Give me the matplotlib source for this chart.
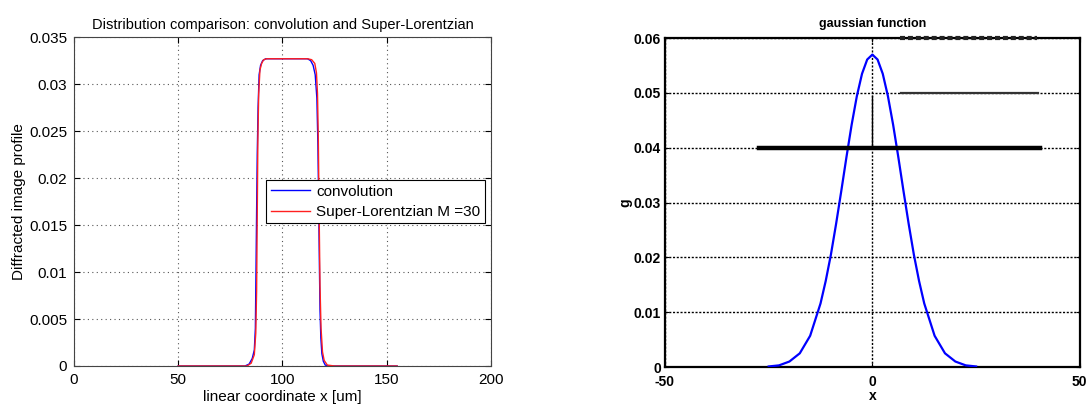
import numpy as np
import matplotlib
matplotlib.use('Agg')
import matplotlib.pyplot as plt

# left panel: convolution vs super-lorentzian
conv_x = [50, 82, 84, 85.5, 86.5, 87, 87.3, 87.6, 87.9, 88.3, 88.8, 89.5, 90.5, 92, 100, 112,
          113.5, 114.7, 115.7, 116.5, 117, 117.4, 117.7, 118, 118.4, 118.9, 119.6, 120.5, 122, 130, 155]
conv_y = [0, 0, 0.0002, 0.0008, 0.0017, 0.004, 0.010, 0.0165, 0.0225, 0.0275, 0.031, 0.0320, 0.0325, 0.0327, 0.0327, 0.0327,
          0.0325, 0.0320, 0.0310, 0.0285, 0.0235, 0.0165, 0.011, 0.006, 0.003, 0.0013, 0.0005, 0.0001, 0, 0, 0]
slor_x = [50, 83, 85, 86.5, 87.2, 87.6, 87.9, 88.2, 88.6, 89.2, 90, 91, 92.5, 100, 112, 114,
          115.5, 116.3, 116.8, 117.2, 117.6, 118, 118.5, 119.2, 120, 121.5, 125, 155]
slor_y = [0, 0, 0.0003, 0.0012, 0.0035, 0.008, 0.016, 0.024, 0.029, 0.0315, 0.0322, 0.0326, 0.0327, 0.0327, 0.0327, 0.0326,
          0.0322, 0.0312, 0.0290, 0.0240, 0.0160, 0.0085, 0.0040, 0.0015, 0.0006, 0.0001, 0, 0]
left_xticks = [0, 50, 100, 150, 200]
left_yticks = [0, 0.005, 0.01, 0.015, 0.02, 0.025, 0.03, 0.035]
left_ylabels = ['0', '0.005', '0.01', '0.015', '0.02', '0.025', '0.03', '0.035']

# right panel: gaussian
gx = [-25, -22.5, -20, -17.5, -15, -12.5, -11.25, -10, -8.75, -7.5, -6.25, -5, -3.75, -2.5, -1.25, 0,
      1.25, 2.5, 3.75, 5, 6.25, 7.5, 8.75, 10, 11.25, 12.5, 15, 17.5, 20, 22.5, 25]
gy = [0.0001, 0.0003, 0.0010, 0.0025, 0.0057, 0.0116, 0.0157, 0.0205, 0.0261, 0.0321, 0.0383, 0.0442, 0.0494, 0.0535, 0.0561, 0.0570,
      0.0561, 0.0535, 0.0494, 0.0442, 0.0383, 0.0321, 0.0261, 0.0205, 0.0157, 0.0116, 0.0057, 0.0025, 0.0010, 0.0003, 0.0001]
right_xticks = [-50, 0, 50]
right_yticks = [0, 0.01, 0.02, 0.03, 0.04, 0.05, 0.06]
right_ylabels = ['0', '0.01', '0.02', '0.03', '0.04', '0.05', '0.06']
# stray black segments over the gaussian
seg_dotted = ([6.6, 39.6], [0.06, 0.06])
seg_mid = ([6.9, 39.9], [0.05, 0.05])
seg_thick = ([-27.3, 40.4], [0.04, 0.04])
seg_vert = ([0, 0], [0.04, 0.0495])

plt.rcParams['font.family'] = ['Liberation Sans', 'DejaVu Sans']

fig = plt.figure(figsize=(10.86, 4.05), dpi=100)

# ---- left
ax1 = fig.add_axes([0.0681, 0.0963, 0.384, 0.812])
ax1.plot(conv_x, conv_y, color='#0000ff', lw=1.0, label='convolution')
ax1.plot(slor_x, slor_y, color='#ff2020', lw=1.0, label='Super-Lorentzian M =30')
ax1.set_xlim(0, 200)
ax1.set_ylim(0, 0.035)
ax1.set_xticks(left_xticks)
ax1.set_xticklabels([str(t) for t in left_xticks])
ax1.set_yticks(left_yticks)
ax1.set_yticklabels(left_ylabels)
ax1.grid(True, color='#555555', lw=0.8, linestyle=(0, (1, 3)))
ax1.tick_params(direction='in', length=4, labelsize=11, top=True, right=True, pad=5)
for s in ax1.spines.values():
    s.set_linewidth(0.8)
    s.set_color('#444444')
ax1.set_title('Distribution comparison: convolution and Super-Lorentzian', fontsize=10.5, pad=6)
ax1.set_xlabel('linear coordinate x [um]', fontsize=11, labelpad=2)
ax1.set_ylabel('Diffracted image profile', fontsize=11, labelpad=2)
leg = ax1.legend(loc='upper right', bbox_to_anchor=(0.986, 0.565), borderaxespad=0,
                 fancybox=False, framealpha=1, edgecolor='black', fontsize=11,
                 handlelength=2.6, handletextpad=0.4, labelspacing=0.4, borderpad=0.3)
leg.get_frame().set_linewidth(0.8)

# ---- right
bold = dict(fontweight='bold', family=['Liberation Sans Narrow', 'Liberation Sans'])
ax2 = fig.add_axes([0.6123, 0.0938, 0.382, 0.812])
ax2.plot(gx, gy, color='#0000ff', lw=1.6, zorder=3)
ax2.plot(*seg_dotted, color='#222222', lw=3.0, linestyle=(0, (1.2, 0.7)), zorder=4, clip_on=False)
ax2.plot(*seg_mid, color='#333333', lw=1.6, zorder=4)
ax2.plot(*seg_thick, color='black', lw=3.2, zorder=4)
ax2.plot(*seg_vert, color='black', lw=1.0, zorder=4)
ax2.set_xlim(-50, 50)
ax2.set_ylim(0, 0.06)
ax2.set_xticks(right_xticks)
ax2.set_xticklabels([str(t) for t in right_xticks], **bold, fontsize=10)
ax2.set_yticks(right_yticks)
ax2.set_yticklabels(right_ylabels, **bold, fontsize=10)
ax2.grid(True, color='black', lw=1.0, linestyle=(0, (1.5, 1.2)))
ax2.tick_params(axis='y', direction='in', length=3, right=True, pad=3)
ax2.tick_params(axis='x', direction='in', length=3, top=True, pad=5.5)
for s in ax2.spines.values():
    s.set_linewidth(1.6)
ax2.set_title('gaussian function', fontsize=9, pad=8, **bold)
ax2.set_xlabel('x', fontsize=10, labelpad=0, **bold)
ax2.set_ylabel('g', fontsize=10, labelpad=1, **bold)

fig.savefig('out.png', dpi=100)
